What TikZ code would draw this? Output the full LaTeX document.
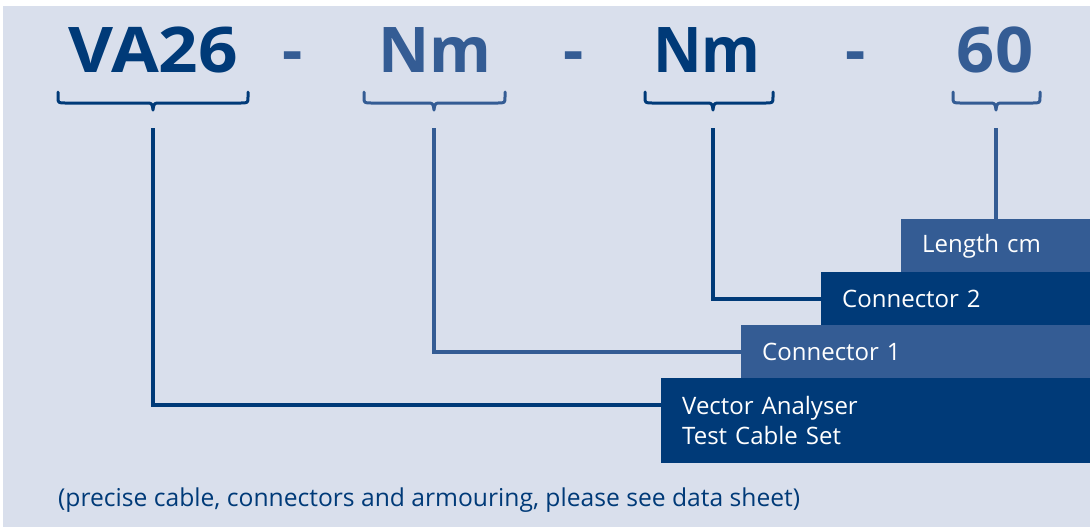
\documentclass[tikz,border=0pt]{standalone}
\usepackage{fontspec}
\setmainfont{Open Sans}
\usetikzlibrary{calc}
\definecolor{bgc}{HTML}{D9DFEC}
\definecolor{dk}{HTML}{003A78}
\definecolor{md}{HTML}{345C94}
\tikzset{
  title/.style={anchor=base, inner sep=0pt, font=\fontsize{63}{63}\selectfont\bfseries},
  dashc/.style={anchor=base, inner sep=0pt, text=md, font=\fontsize{63}{63}\selectfont\bfseries},
  brc/.style={line width=3pt, line cap=round, line join=round},
  lnk/.style={line width=4pt},
  box/.style={anchor=north west, inner xsep=21pt, inner ysep=0pt, align=left, text=white,
    font=\fontsize{24}{30}\selectfont},
}
\newcommand{\mybrace}[4]{% x1, tip, x2, color
  \draw[brc,#4] (#1,92) -- (#1,97) .. controls (#1,103) .. (#1+8,103) -- (#2-7,103)
    .. controls (#2-1,103) .. (#2,110) .. controls (#2+1,103) .. (#2+7,103) -- (#3-8,103)
    .. controls (#3,103) .. (#3,97) -- (#3,92);}
\begin{document}
\begin{tikzpicture}[x=1pt,y=-1pt]
\useasboundingbox (0,0) rectangle (1090,531);
\fill[white] (0,0) rectangle (1090,531);
\fill[bgc] (3,6) rectangle (1090,527);
% titles
\node[title,text=dk] (t1) at (153.5,72) {\scalebox{1.1}[1]{VA26}};
\node[dashc] (d1) at (293,72) {-};
\node[title,text=md] (t2) at (435,72) {Nm};
\node[dashc] (d2) at (574,72) {-};
\node[title,text=dk] (t3) at (707,72) {\scalebox{0.95}[1]{Nm}};
\node[dashc] (d3) at (856,72) {-};
\node[title,text=md] (t4) at (995,72) {\scalebox{1.06}[1]{60}};
% braces
\mybrace{58}{153}{248}{dk}
\mybrace{364}{434}{505}{md}
\mybrace{645}{713}{773}{dk}
\mybrace{953}{996}{1040}{md}
\coordinate (s1) at (153,128);
\coordinate (s2) at (434,128);
\coordinate (s3) at (713,128);
\coordinate (s4) at (996,128);
% boxes
\node[box,fill=md,minimum width=189pt,minimum height=54pt,text width=147pt] (lb) at (901,219) {\raisebox{-2pt}{Length cm}};
\node[box,fill=dk,minimum width=269pt,minimum height=54pt,text width=227pt] (c2) at (821,272) {Connector 2};
\node[box,fill=md,minimum width=349pt,minimum height=54pt,text width=307pt] (c1) at (741,325) {Connector 1};
\node[box,fill=dk,minimum width=429pt,minimum height=85pt,text width=387pt] (va) at (661,378) {Vector Analyser\\Test Cable Set};
% links
\draw[lnk,md] (s4) -- (s4 |- lb.north);
\draw[lnk,dk] (s3) |- (c2.west);
\draw[lnk,md] (s2) |- (c1.west);
\draw[lnk,dk] (s1) |- ($(va.north west)+(0,27)$);
% footnote
\node[anchor=base west,inner sep=0pt,text=dk,font=\fontsize{23}{23}\selectfont] (fn) at (58,506)
  {\resizebox{742pt}{!}{(precise cable, connectors and armouring, please see data sheet)}};
\end{tikzpicture}
\end{document}
